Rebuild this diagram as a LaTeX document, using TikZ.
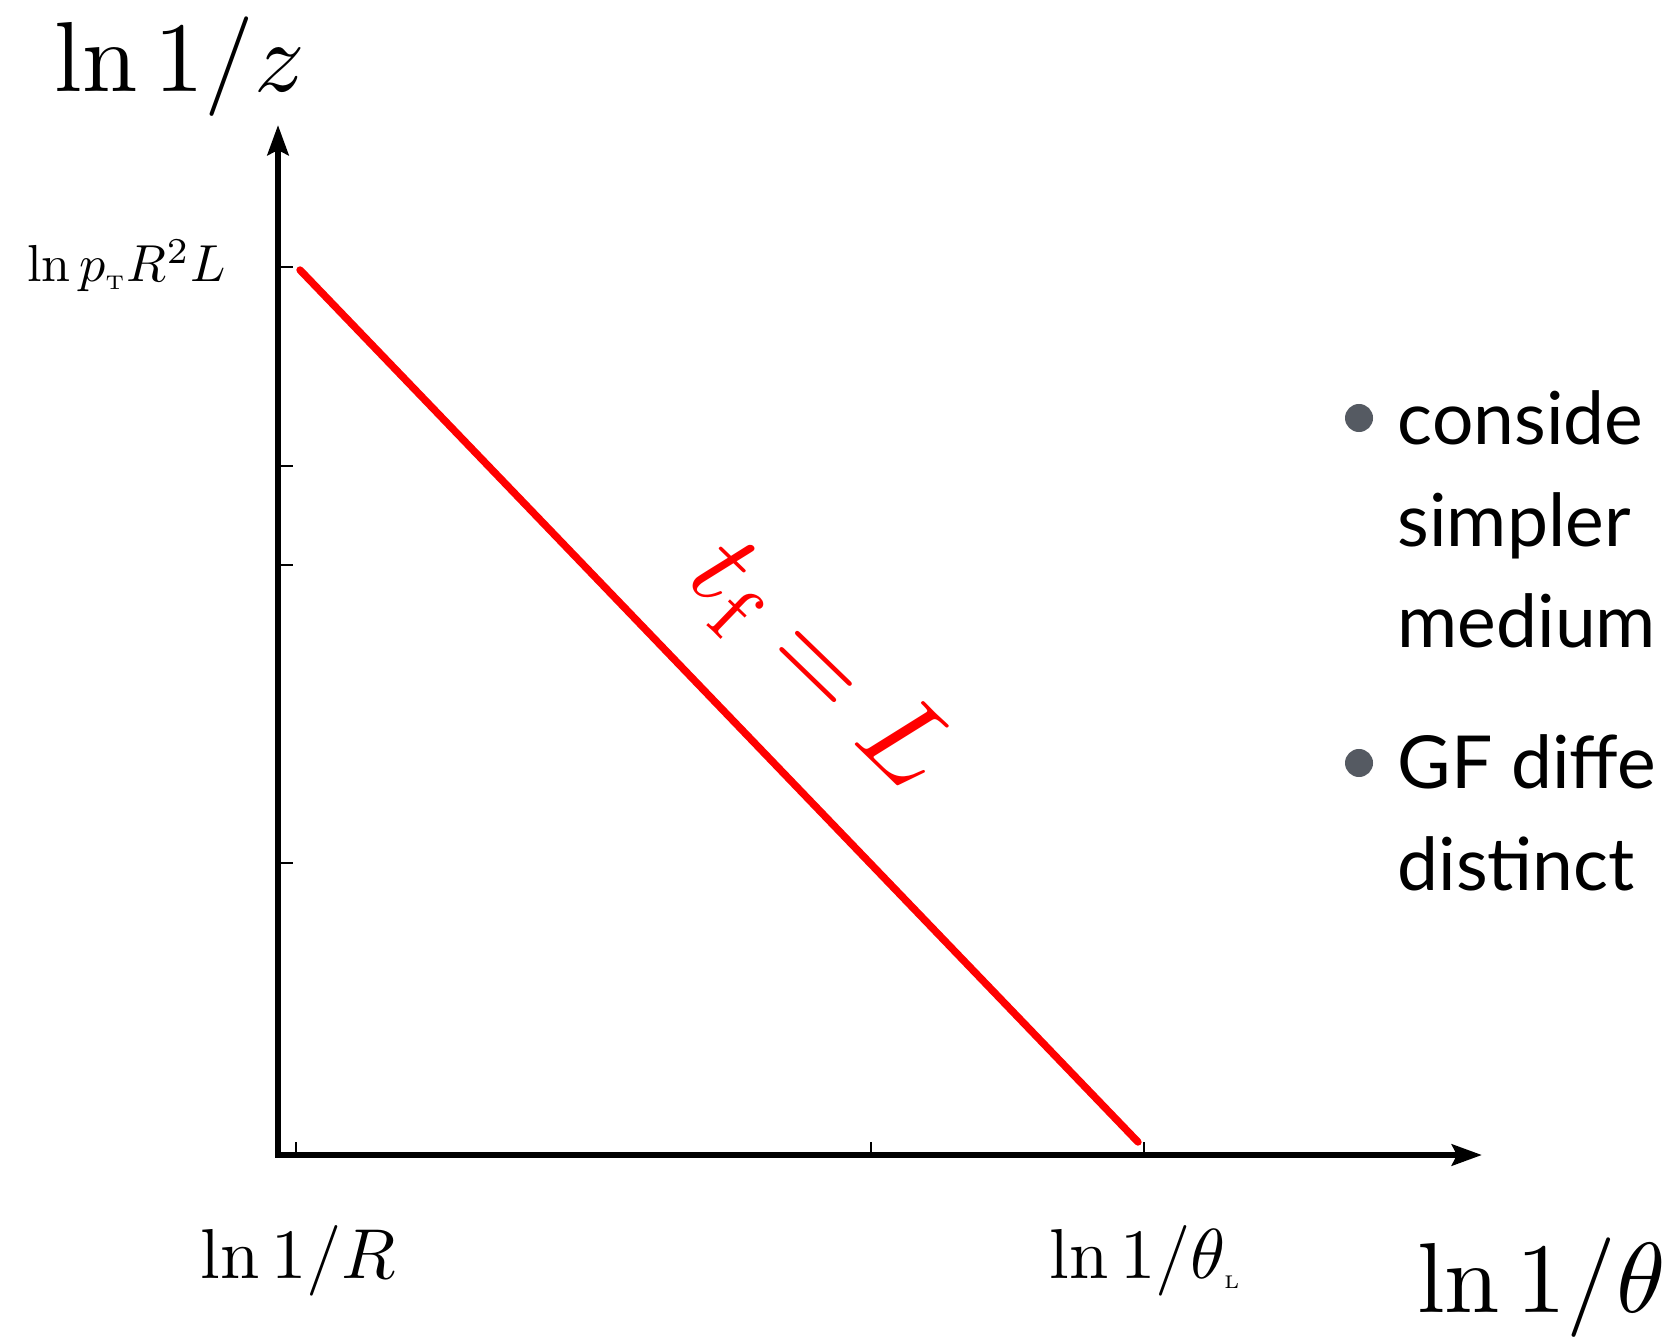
\documentclass[tikz,border=0pt]{standalone}
\usepackage{amsmath}
\usepackage{graphicx}
\usepackage{fontspec}
\setsansfont{Lato}
\usetikzlibrary{calc, positioning}
\usetikzlibrary{arrows.meta}
\definecolor{bulletgray}{RGB}{85,90,98}
\tikzset{
  axis/.style={line width=1.85pt, {Stealth[length=0.3cm, width=0.21cm, inset=0.05cm]}-{Stealth[length=0.3cm, width=0.21cm, inset=0.05cm]}},
  tick/.style={line width=0.6pt},
  redline/.style={red, line width=2.1pt, line cap=round},
  mathlab/.style={anchor=base west, inner sep=0pt, scale=#1},
  bullettext/.style={anchor=base west, inner sep=0pt, font=\sffamily\fontsize{20.8pt}{20.8pt}\selectfont},
}
\newcommand{\smallsub}[2]{\scalebox{#1}{$\scriptscriptstyle\mathrm{#2}$}}
\begin{document}
\begin{tikzpicture}[x=0.01cm, y=-0.01cm]
\clip (0,0) rectangle (1673,1337);
\useasboundingbox (0,0) rectangle (1673,1337);

\coordinate (O) at (278,1155);
\coordinate (Y) at (278,125);
\coordinate (X) at (1482,1155);
\coordinate (P) at (300,270);
\coordinate (Q) at (1138,1142);

\draw[axis] (Y) |- (X);

\foreach \y in {267,466,565,863}
  \draw[tick] (278,\y) -- ++(15,0);
\foreach \x in {296,871,1144}
  \draw[tick] (\x,1155) -- ++(0,-13);

\draw[redline] (P) -- (Q);
\node[red, rotate=-44, scale=3.3] (tf) at (818,666) {$t_{\mathrm{f}} = L$};

\node[mathlab=2.83] (zlab) at (53,92) {$\ln 1/z$};
\node[mathlab=2.83] (thlab) at (1415,1312) {$\ln 1/\theta$};
\node[mathlab=1.48] (ptlab) at (26,282) {$\ln p_{\smallsub{0.76}{T}} R^2 L$};
\node[mathlab=2.01] (Rlab) at (199,1278) {$\ln 1/R$};
\node[mathlab=2.01] (thLlab) at (1048,1278) {$\ln 1/\theta_{\smallsub{0.52}{L}}$};

% bullets
\fill[bulletgray] (1359,418) circle (0.14cm);
\fill[bulletgray] (1359,763) circle (0.14cm);
\node[bullettext] (b1) at (1397,445) {conside};
\node[bullettext] (b2) at (1397,547) {simpler};
\node[bullettext] (b3) at (1397,648) {medium};
\node[bullettext] (b4) at (1397,788) {GF diffe};
\node[bullettext] (b5) at (1397,890) {distinct};
\end{tikzpicture}
\end{document}
